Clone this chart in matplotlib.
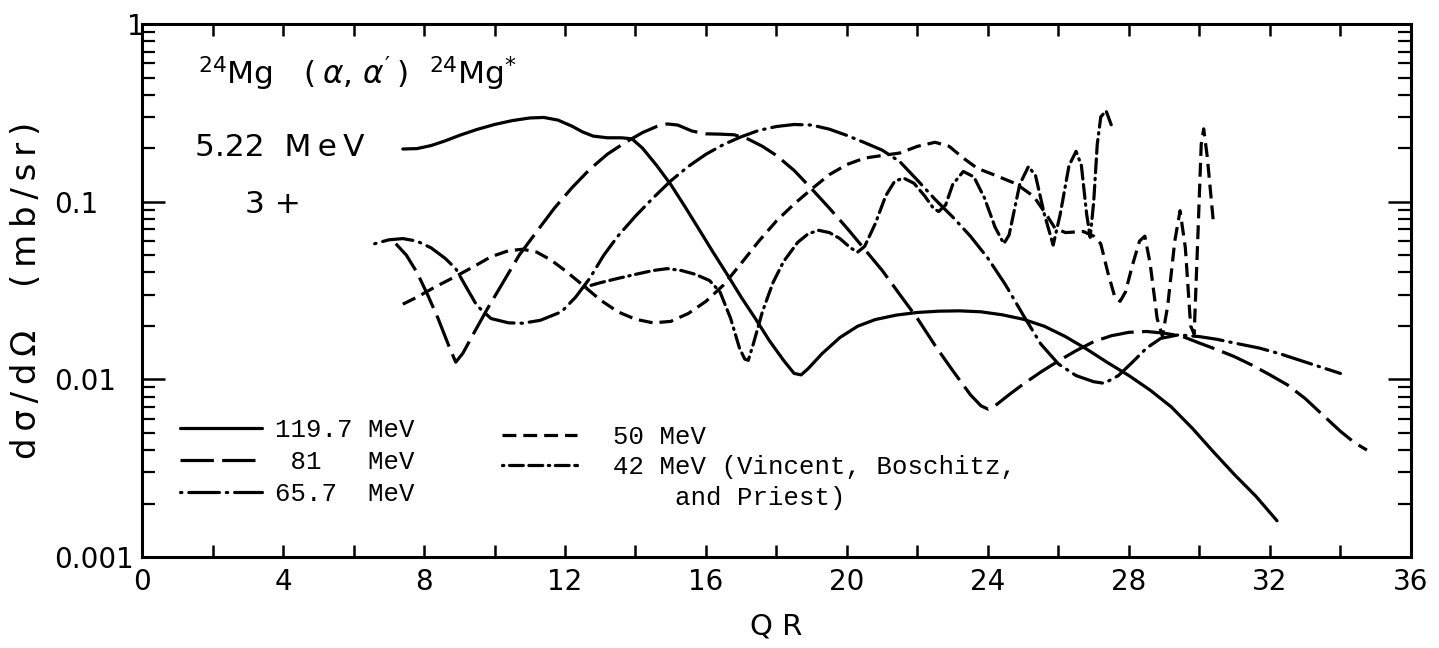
import matplotlib
matplotlib.use("Agg")
import matplotlib.pyplot as plt
import matplotlib.transforms as mtransforms
from matplotlib.lines import Line2D
from matplotlib.ticker import MultipleLocator, LogLocator, NullFormatter

plt.rcParams['font.family'] = 'DejaVu Sans'
plt.rcParams['mathtext.fontset'] = 'dejavusans'
plt.rcParams['mathtext.default'] = 'regular'
plt.rcParams['lines.scale_dashes'] = False

# 119.7 MeV
qr_119 = [7.4, 7.8, 8.2, 8.6, 9.0, 9.5, 10.0, 10.5, 11.0, 11.4, 11.8, 12.2, 12.5, 12.8,
          13.2, 13.6, 13.9, 14.2, 14.6, 15.0, 15.4, 15.8, 16.2, 16.6, 17.0, 17.4, 17.8,
          18.2, 18.5, 18.7, 18.9, 19.3, 19.8, 20.3, 20.8, 21.4, 22.0, 22.6, 23.2, 23.8,
          24.4, 25.0, 25.6, 26.2, 26.8, 27.4, 28.0, 28.6, 29.2, 29.8, 30.4, 31.0, 31.6, 32.2]
ds_119 = [0.198, 0.199, 0.207, 0.220, 0.236, 0.255, 0.272, 0.286, 0.296, 0.298, 0.288,
          0.266, 0.247, 0.234, 0.229, 0.229, 0.226, 0.200, 0.160, 0.125, 0.094, 0.070,
          0.052, 0.039, 0.029, 0.022, 0.0165, 0.0128, 0.0108, 0.0106, 0.0115, 0.0140,
          0.0172, 0.0199, 0.0217, 0.0230, 0.0238, 0.0242, 0.0243, 0.0240, 0.0231, 0.0218,
          0.0199, 0.0174, 0.0148, 0.0124, 0.0105, 0.0087, 0.0070, 0.0053, 0.0039, 0.0029,
          0.0022, 0.0016]

# 81 MeV
qr_81 = [7.2, 7.5, 7.8, 8.1, 8.4, 8.7, 8.9, 9.1, 9.4, 9.8, 10.2, 10.7, 11.2, 11.7, 12.2,
         12.7, 13.2, 13.7, 14.2, 14.6, 14.9, 15.2, 15.6, 16.0, 16.4, 16.8, 17.2, 17.6,
         18.0, 18.5, 19.0, 19.5, 20.0, 20.5, 21.0, 21.5, 22.0, 22.5, 23.0, 23.5, 23.8,
         24.0, 24.2, 24.6, 25.0, 25.5, 26.0, 26.5, 27.0, 27.5, 28.0, 28.5, 29.0, 29.5,
         30.0, 30.5, 31.0, 31.5, 32.0, 32.5, 33.0, 33.5, 34.0, 34.4, 34.75]
ds_81 = [0.058, 0.050, 0.040, 0.030, 0.022, 0.0155, 0.0125, 0.0140, 0.0180, 0.025, 0.034,
         0.050, 0.068, 0.092, 0.120, 0.152, 0.185, 0.215, 0.245, 0.265, 0.274, 0.270,
         0.250, 0.241, 0.240, 0.238, 0.225, 0.205, 0.182, 0.150, 0.118, 0.092, 0.071,
         0.054, 0.041, 0.030, 0.022, 0.0155, 0.0112, 0.0082, 0.0071, 0.0068, 0.0071,
         0.0082, 0.0094, 0.0110, 0.0127, 0.0145, 0.0163, 0.0176, 0.0184, 0.0186, 0.0182,
         0.0175, 0.0160, 0.0147, 0.0134, 0.0120, 0.0106, 0.0093, 0.0078, 0.0063, 0.0051,
         0.0044, 0.0040]

# 65.7 MeV
qr_65 = [6.6, 7.0, 7.4, 7.8, 8.2, 8.6, 8.9, 9.2, 9.5, 9.9, 10.4, 10.8, 11.3, 11.9, 12.3,
         12.7, 13.1, 13.5, 14.0, 14.5, 15.0, 15.5, 16.0, 16.5, 17.0, 17.5, 18.0, 18.5,
         19.0, 19.5, 20.0, 20.5, 21.0, 21.5, 22.0, 22.5, 23.0, 23.5, 24.0, 24.5, 25.0,
         25.5, 26.0, 26.5, 27.0, 27.3, 27.7, 28.1, 28.5, 28.9, 29.4, 30.0, 30.5, 31.0,
         31.7, 32.3, 32.8, 33.4, 34.0]
ds_65 = [0.058, 0.061, 0.062, 0.060, 0.055, 0.048, 0.042, 0.033, 0.026, 0.022, 0.0208,
         0.0207, 0.0215, 0.0240, 0.029, 0.037, 0.050, 0.064, 0.083, 0.105, 0.131, 0.158,
         0.185, 0.210, 0.232, 0.252, 0.265, 0.272, 0.270, 0.256, 0.236, 0.215, 0.195,
         0.168, 0.132, 0.103, 0.082, 0.064, 0.048, 0.034, 0.023, 0.0158, 0.0122, 0.0105,
         0.0097, 0.0095, 0.0105, 0.0125, 0.0150, 0.0170, 0.0178, 0.0174, 0.0168, 0.0160,
         0.0150, 0.0139, 0.0129, 0.0118, 0.0108]

# 50 MeV
qr_50 = [7.4, 7.8, 8.3, 8.9, 9.4, 9.9, 10.4, 10.8, 11.2, 11.6, 12.0, 12.5, 13.0, 13.5,
         14.0, 14.5, 15.0, 15.5, 16.0, 16.5, 17.0, 17.5, 18.0, 18.5, 19.0, 19.5, 20.0,
         20.5, 21.0, 21.5, 22.0, 22.5, 22.9, 23.3, 23.7, 24.2, 24.8, 25.3, 25.7, 25.9,
         26.2, 26.7, 27.0, 27.2, 27.4, 27.6, 27.75, 27.9, 28.1, 28.3, 28.45, 28.6, 28.8,
         28.95, 29.1, 29.3, 29.45, 29.6, 29.75, 29.85, 29.95, 30.05, 30.12, 30.22, 30.4]
ds_50 = [0.0265, 0.029, 0.033, 0.038, 0.043, 0.049, 0.053, 0.054, 0.052, 0.047, 0.041,
         0.034, 0.028, 0.024, 0.0218, 0.0208, 0.0212, 0.0235, 0.0275, 0.034, 0.045, 0.060,
         0.078, 0.097, 0.118, 0.142, 0.162, 0.176, 0.182, 0.188, 0.205, 0.216, 0.205,
         0.176, 0.154, 0.141, 0.126, 0.107, 0.082, 0.071, 0.067, 0.068, 0.064, 0.058,
         0.040, 0.029, 0.0275, 0.031, 0.044, 0.060, 0.064, 0.045, 0.022, 0.0175, 0.026,
         0.060, 0.089, 0.055, 0.020, 0.018, 0.060, 0.210, 0.257, 0.180, 0.075]

# 42 MeV (Vincent, Boschitz and Priest)
qr_42 = [12.55, 13.0, 13.5, 14.0, 14.5, 14.9, 15.3, 15.7, 16.1, 16.4, 16.7, 16.95, 17.1,
         17.2, 17.35, 17.6, 17.9, 18.2, 18.6, 18.9, 19.2, 19.5, 19.8, 20.1, 20.3, 20.5,
         20.8, 21.1, 21.35, 21.6, 21.9, 22.2, 22.45, 22.6, 22.8, 23.0, 23.3, 23.6, 23.9,
         24.2, 24.45, 24.6, 24.9, 25.15, 25.35, 25.6, 25.85, 26.05, 26.3, 26.5, 26.65,
         26.8, 26.9, 27.0, 27.1, 27.2, 27.35, 27.5]
ds_42 = [0.033, 0.035, 0.037, 0.039, 0.041, 0.042, 0.041, 0.039, 0.036, 0.031, 0.022,
         0.015, 0.013, 0.0128, 0.016, 0.024, 0.035, 0.046, 0.059, 0.066, 0.069, 0.067,
         0.062, 0.055, 0.052, 0.056, 0.075, 0.108, 0.130, 0.136, 0.127, 0.108, 0.092,
         0.088, 0.096, 0.125, 0.148, 0.138, 0.105, 0.072, 0.058, 0.065, 0.125, 0.158,
         0.140, 0.085, 0.057, 0.085, 0.160, 0.192, 0.160, 0.085, 0.063, 0.100, 0.210,
         0.300, 0.325, 0.270]

fig = plt.figure(figsize=(14.39, 6.48), dpi=100)
ax = fig.add_axes([0.0987, 0.1404, 0.8818, 0.8225])

lw = 2.3
l119, = ax.plot(qr_119, ds_119, color='black', lw=lw, solid_capstyle='round')
l81, = ax.plot(qr_81, ds_81, color='black', lw=lw, dashes=(24, 6))
l65, = ax.plot(qr_65, ds_65, color='black', lw=lw, dashes=(1, 5, 22, 5),
               dash_capstyle='round')
l50, = ax.plot(qr_50, ds_50, color='black', lw=lw, dashes=(10, 5))
l42, = ax.plot(qr_42, ds_42, color='black', lw=lw, dashes=(1, 4, 10, 4, 10, 4),
               dash_capstyle='round')

ax.set_yscale('log')
ax.set_xlim(0, 36)
ax.set_ylim(0.001, 1)

for side in ax.spines.values():
    side.set_linewidth(2.2)

ax.xaxis.set_major_locator(MultipleLocator(4))
ax.xaxis.set_minor_locator(MultipleLocator(2))
ax.yaxis.set_major_locator(LogLocator(base=10))
ax.yaxis.set_minor_locator(LogLocator(base=10, subs=range(2, 10)))
ax.yaxis.set_minor_formatter(NullFormatter())
ax.set_yticks([0.001, 0.01, 0.1, 1], labels=['0.001', '0.01', '0.1', '1'])

ax.tick_params(axis='x', which='both', direction='in', top=True, length=8.5,
               width=1.8, labelsize=20, pad=8)
ax.tick_params(axis='y', which='major', direction='in', right=True, length=16.5,
               width=1.8, labelsize=20, pad=63)
ax.tick_params(axis='y', which='minor', direction='in', right=True, length=9.5,
               width=1.6)
for lab in ax.get_yticklabels():
    lab.set_horizontalalignment('left')
# the top label sits next to the spine
top_lab = ax.get_yticklabels()[-1]
top_lab.set_transform(top_lab.get_transform()
                      + mtransforms.ScaledTranslation(0.72, 0, fig.dpi_scale_trans))

ax.set_xlabel('Q R', fontsize=21, labelpad=12)
ax.set_ylabel('d\u2009σ\u2009/\u2009d\u2009Ω    (\u2009m\u2009b\u2009/\u2009s\u2009r\u2009)',
              fontsize=24.5, labelpad=8)

ax.text(0.044, 0.887,
        "$^{24}$Mg   (\u2009$\\mathit{\\alpha}$, $\\mathit{\\alpha}'$\u2009)  $^{24}$Mg$^{*}$",
        transform=ax.transAxes, fontsize=22.5, ha='left', va='baseline')
ax.text(0.042, 0.768, '5.22  M\u2009e\u2009V', transform=ax.transAxes, fontsize=22.5,
        ha='left', va='center')
ax.text(0.081, 0.662, '3 +', transform=ax.transAxes, fontsize=22.5,
        ha='left', va='center')

mono = {'family': 'Liberation Mono', 'size': 18.5}
blank = Line2D([], [], linestyle='none')
leg1 = ax.legend([l119, l81, l65], ['119.7 MeV', ' 81   MeV', '65.7  MeV'],
                 loc='center left', bbox_to_anchor=(0.030, 0.179), frameon=False,
                 prop=mono, handlelength=3.2, handletextpad=0.5, labelspacing=0.31,
                 borderpad=0, borderaxespad=0)
ax.add_artist(leg1)
ax.legend([l50, l42, blank], ['50 MeV', '42 MeV (Vincent, Boschitz,', '    and Priest)'],
          loc='center left', bbox_to_anchor=(0.2837, 0.168), frameon=False,
          prop=mono, handlelength=2.9, handletextpad=1.4, labelspacing=0.25,
          borderpad=0, borderaxespad=0)

fig.savefig('out.png', dpi=100)
